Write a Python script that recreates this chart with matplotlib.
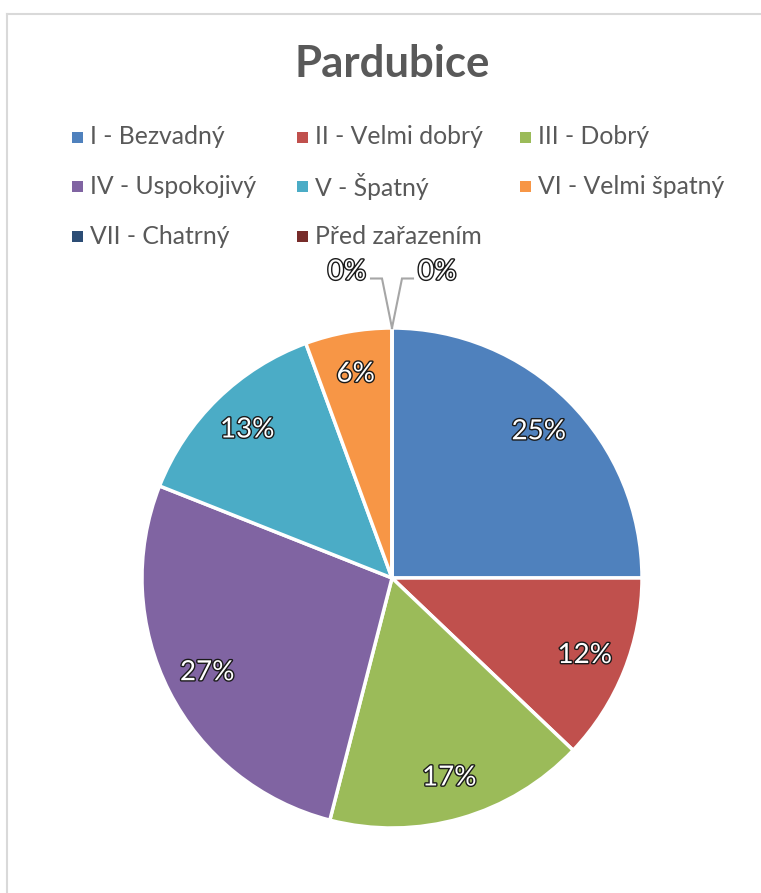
import matplotlib
matplotlib.use("Agg")
import matplotlib.pyplot as plt
from matplotlib.patches import Rectangle
from matplotlib.lines import Line2D
import matplotlib.patheffects as pe
import numpy as np

plt.rcParams['font.family'] = ['Lato', 'DejaVu Sans']

title = "Pardubice"
categories = ["I - Bezvadný", "II - Velmi dobrý", "III - Dobrý",
              "IV - Uspokojivý", "V - Špatný", "VI - Velmi špatný",
              "VII - Chatrný", "Před zařazením"]
shares = [25.0, 12.1, 16.9, 27.0, 13.4, 5.6, 0.0, 0.0]
colors = ["#4F81BD", "#C0504D", "#9BBB59", "#8064A2",
          "#4BACC6", "#F79646", "#2C4D75", "#772C2A"]

W, H = 761, 893
fig = plt.figure(figsize=(W / 100, H / 100), dpi=100)

# chart area border (runs off the right and bottom edges)
border_color = "#D9D9D9"
fig.add_artist(Line2D([6.5 / W, 1.0], [1 - 13.5 / H, 1 - 13.5 / H],
                      transform=fig.transFigure, color=border_color, lw=1.5))
fig.add_artist(Line2D([6.5 / W, 6.5 / W], [1 - 13.5 / H, 0.0],
                      transform=fig.transFigure, color=border_color, lw=1.5))

text_gray = "#595959"
fig.text(392 / W, 1 - 64 / H, title, ha="center", va="center",
         fontsize=31.5, fontweight="bold", color=text_gray)

# legend laid out row by row in three columns
col_x = [72, 297, 520]
row_y = [137, 186, 236]
sq = 11
for i, (name, c) in enumerate(zip(categories, colors)):
    r, k = divmod(i, 3)
    x, y = col_x[k], row_y[r]
    fig.add_artist(Rectangle(((x) / W, 1 - (y + sq / 2) / H), sq / W, sq / H,
                             transform=fig.transFigure, facecolor=c,
                             edgecolor="none"))
    fig.text((x + 18) / W, 1 - y / H, name, ha="left", va="center",
             fontsize=17.8, color=text_gray)

# pie
cx, cy, R = 392, 578, 250
ax = fig.add_axes([(cx - R) / W, 1 - (cy + R) / H, 2 * R / W, 2 * R / H])
wedges, _ = ax.pie(shares, colors=colors, startangle=90, counterclock=False,
                   radius=1.0,
                   wedgeprops=dict(edgecolor="white", linewidth=2.5))
ax.set_xlim(-1, 1)
ax.set_ylim(-1, 1)
ax.set_aspect("auto")
ax.axis("off")

outline = [pe.withStroke(linewidth=2.0, foreground="#1a1a1a")]
label_r = 0.83
zero_labels = []
for w, v in zip(wedges, shares):
    lab = f"{v:.0f}%"
    if v == 0:
        zero_labels.append((w, lab))
        continue
    mid = np.deg2rad((w.theta1 + w.theta2) / 2)
    ax.text(label_r * np.cos(mid), label_r * np.sin(mid), lab,
            ha="center", va="center", fontsize=20, color="white",
            path_effects=outline, clip_on=False)

# zero-size slices get labels above the pie on leader lines
leader = "#A6A6A6"
sides = [-1, 1]
for (w, lab), s in zip(zero_labels, sides):
    ang = np.deg2rad(w.theta1)
    x0, y0 = np.cos(ang), np.sin(ang)
    ax.plot([x0, s * 0.04, s * 0.084], [y0, 1.198, 1.198], color=leader,
            lw=1.5, clip_on=False, solid_joinstyle="miter")
    ax.text(s * 0.104, 1.226, lab, ha="right" if s < 0 else "left",
            va="center", fontsize=20, color="white",
            path_effects=outline, clip_on=False)

fig.savefig("out.png", dpi=100)
